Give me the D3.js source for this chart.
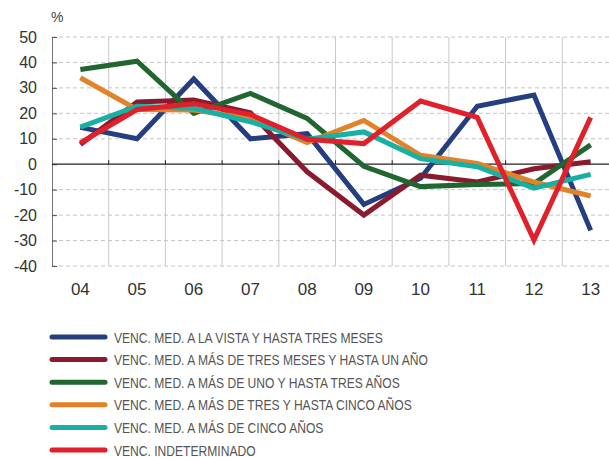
<!DOCTYPE html>
<html>
<head>
<meta charset="utf-8">
<script src="https://cdn.jsdelivr.net/npm/d3@7"></script>
<style>
  body { margin: 0; background: #fff; }
  svg { display: block; }
</style>
</head>
<body>
<div id="chart"></div>
<script>
// years (x categories) and series values
var years = ['04', '05', '06', '07', '08', '09', '10', '11', '12', '13'];
var yTicks = [50, 40, 30, 20, 10, 0, -10, -20, -30, -40];

var vista     = [14.5, 10, 33.5, 10, 12, -15.8, -5.5, 22.8, 27.2, -26];
var tresMeses = [7.8, 24.5, 25.2, 20.2, -3, -20, -4.3, -7, -1.8, 1];
var unoTres   = [37.2, 40.5, 20, 27.8, 18, -0.8, -8.8, -8, -7.6, 7.6];
var tresCinco = [34, 21.5, 21.3, 18, 8.5, 17.2, 3.5, 0.3, -7, -12.5];
var cinco     = [14.6, 22.8, 22, 16.7, 9.8, 12.7, 2.2, -1, -9.4, -4];
var indet     = [8.4, 21.5, 23.8, 19.5, 9.8, 8.1, 24.8, 18.4, -29.8, 18.4];

var labels = [
  'VENC. MED. A LA VISTA Y HASTA TRES MESES',
  'VENC. MED. A MÁS DE TRES MESES Y HASTA UN AÑO',
  'VENC. MED. A MÁS DE UNO Y HASTA TRES AÑOS',
  'VENC. MED. A MÁS DE TRES Y HASTA CINCO AÑOS',
  'VENC. MED. A MÁS DE CINCO AÑOS',
  'VENC. INDETERMINADO'
];
var colors = ['#243e80', '#8a1b2f', '#1f6630', '#e0832a', '#19b0a4', '#e0212b'];

var series = [vista, tresMeses, unoTres, tresCinco, cinco, indet].map(function(v, i) {
  return { name: labels[i], color: colors[i], values: v };
});

var W = 609, H = 457;
var svg = d3.select('#chart').append('svg')
  .attr('width', W).attr('height', H);

var x = d3.scaleBand().domain(years).range([52, 619]);
var y = d3.scaleLinear().domain([-40, 50]).range([266, 37]);

// horizontal dashed grid
svg.append('g').selectAll('line')
  .data(yTicks.filter(function(d) { return d !== 0; }))
  .enter().append('line')
    .attr('x1', 52).attr('x2', W)
    .attr('y1', function(d) { return y(d); })
    .attr('y2', function(d) { return y(d); })
    .attr('stroke', '#c4c4c4')
    .attr('stroke-width', 1)
    .attr('stroke-dasharray', '4,3');

// vertical grid between years
svg.append('g').selectAll('line')
  .data(years.slice(1))
  .enter().append('line')
    .attr('x1', function(d) { return x(d); })
    .attr('x2', function(d) { return x(d); })
    .attr('y1', y(50)).attr('y2', y(-40))
    .attr('stroke', '#c8c8c8')
    .attr('stroke-width', 1);

// left axis
var yAxis = d3.axisRight(y).tickValues(yTicks).tickSize(5).tickFormat('');
var ya = svg.append('g').attr('transform', 'translate(52,0)').call(yAxis);
ya.select('.domain').attr('stroke', '#777').attr('d', 'M0.5,' + y(50) + 'V' + y(-40));
ya.selectAll('.tick line').attr('stroke', '#555');

svg.append('g').selectAll('text')
  .data(yTicks)
  .enter().append('text')
    .attr('x', 37)
    .attr('y', function(d) { return y(d) + 5.5; })
    .attr('text-anchor', 'end')
    .style('font-family', '"Liberation Sans", Arial, sans-serif')
    .style('font-size', '16px')
    .attr('fill', '#333')
    .text(function(d) { return d; });

svg.append('text')
  .attr('x', 51).attr('y', 22)
  .style('font-family', '"Liberation Sans", Arial, sans-serif')
  .style('font-size', '14px')
  .attr('fill', '#444')
  .text('%');

// zero line with small ticks
svg.append('line')
  .attr('x1', 52).attr('x2', W)
  .attr('y1', y(0)).attr('y2', y(0))
  .attr('stroke', '#222').attr('stroke-width', 1.2);
svg.append('g').selectAll('line')
  .data(years.slice(1))
  .enter().append('line')
    .attr('x1', function(d) { return x(d); })
    .attr('x2', function(d) { return x(d); })
    .attr('y1', y(0) - 4).attr('y2', y(0))
    .attr('stroke', '#222');

// x labels
svg.append('g').selectAll('text')
  .data(years)
  .enter().append('text')
    .attr('x', function(d) { return x(d) + x.bandwidth() / 2; })
    .attr('y', 295)
    .attr('text-anchor', 'middle')
    .style('font-family', '"Liberation Sans", Arial, sans-serif')
    .style('font-size', '17px')
    .attr('fill', '#333')
    .text(function(d) { return d; });

// lines
var line = d3.line()
  .x(function(d, i) { return x(years[i]) + x.bandwidth() / 2; })
  .y(function(d) { return y(d); });

svg.append('g').selectAll('path')
  .data(series)
  .enter().append('path')
    .attr('d', function(s) { return line(s.values); })
    .attr('fill', 'none')
    .attr('stroke', function(s) { return s.color; })
    .attr('stroke-width', 5)
    .attr('stroke-linejoin', 'miter')
    .attr('stroke-linecap', 'butt');

// legend
var lg = svg.append('g').selectAll('g')
  .data(series)
  .enter().append('g')
    .attr('transform', function(s, i) { return 'translate(0,' + (337 + i * 22.6) + ')'; });
lg.append('line')
  .attr('x1', 52).attr('x2', 105)
  .attr('stroke', function(s) { return s.color; })
  .attr('stroke-width', 5)
  .attr('stroke-linecap', 'round');
var lt = lg.append('text')
  .attr('x', 0).attr('y', 5.5)
  .style('font-family', '"Liberation Sans Narrow", "Liberation Sans", Arial, sans-serif')
  .style('font-size', '15px')
  .attr('fill', '#555')
  .text(function(s) { return s.name; });

// the legend face is a condensed one: squeeze to the width seen in the picture
var k = 269 / lt.node().getComputedTextLength();
lt.attr('transform', 'translate(114,0) scale(' + Math.min(1, k) + ',1)');
</script>
</body>
</html>
